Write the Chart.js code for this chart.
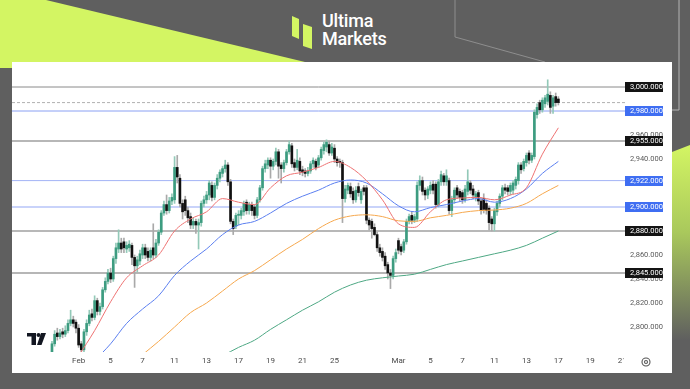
<!DOCTYPE html>
<html>
<head>
<meta charset="utf-8">
<script src="https://cdn.jsdelivr.net/npm/chart.js@4.4.1/dist/chart.umd.min.js"></script>
<style>
  html, body { margin: 0; padding: 0; }
  body { width: 690px; height: 389px; background: #5f5f5f; position: relative; overflow: hidden; }
  #deco { position: absolute; left: 0; top: 0; }
  .logo { position: absolute; left: 322px; top: 12px; color: #fff; font-family: Roboto, sans-serif; font-weight: 500; font-size: 18px; line-height: 18px; letter-spacing: -0.2px; }
  #panel { position: absolute; left: 12px; top: 62px; width: 660px; height: 311px; background: #fff; }
  #chart { position: absolute; left: 0; top: 0; }
</style>
</head>
<body>
<svg id="deco" width="690" height="389">
  <defs>
    <linearGradient id="limeFade" x1="0" y1="0" x2="0" y2="1">
      <stop offset="0" stop-color="#d3f563"/>
      <stop offset="0.45" stop-color="#a9c85c"/>
      <stop offset="1" stop-color="#5f5f5f"/>
    </linearGradient>
  </defs>
  <polygon points="0,0 46,0 330,68 0,68" fill="#d3f563"/>
  <polygon points="672,152 690,145 690,340 672,340" fill="url(#limeFade)"/>
  <polyline points="455,0 455,37 545,62" fill="none" stroke="#8e8e8e" stroke-width="1"/>
  <polyline points="679,0 679,110 672,110" fill="none" stroke="#b5b5b5" stroke-width="1"/>
  <polygon points="292,16 299,19 299,39 292,36" fill="#d3f563"/>
  <polygon points="303,24 312,27 312,49 303,46" fill="#d3f563"/>
</svg>
<div class="logo">Ultima<br>Markets</div>
<div id="panel"></div>
<canvas id="chart" width="690" height="389"></canvas>
<script>
// XAUUSD 4H, 30 Jan - 17 Mar, six bars per trading day

const days = ['Jan 30', 'Jan 31', 'Feb 3', 'Feb 4', 'Feb 5', 'Feb 6', 'Feb 7', 'Feb 10', 'Feb 11', 'Feb 12',
    'Feb 13', 'Feb 14', 'Feb 17', 'Feb 18', 'Feb 19', 'Feb 20', 'Feb 21', 'Feb 24', 'Feb 25', 'Feb 26',
    'Feb 27', 'Feb 28', 'Mar 3', 'Mar 4', 'Mar 5', 'Mar 6', 'Mar 7', 'Mar 10', 'Mar 11', 'Mar 12',
    'Mar 13', 'Mar 14', 'Mar 17', 'Mar 18', 'Mar 19', 'Mar 20', 'Mar 21'];
const axisLabels = ['', '', 'Feb', '', '5', '', '7', '', '11', '',
    '13', '', '17', '', '19', '', '21', '', '25', '',
    '', '', 'Mar', '', '5', '', '7', '', '11', '',
    '13', '', '17', '', '19', '', '21'];

const opens = [
    2768, 2772, 2776, 2786, 2795, 2792,   // Jan 30
    2796, 2794, 2797, 2803, 2806, 2804,   // Jan 31
    2799, 2786, 2781, 2796, 2803, 2811,   // Feb 3
    2808, 2822, 2813, 2817, 2831, 2838,
    2845, 2840, 2857, 2865, 2870, 2871,
    2865, 2866, 2868, 2858, 2851, 2855,
    2860, 2866, 2863, 2858, 2866, 2860,
    2870, 2879, 2895, 2902, 2897, 2905,   // Feb 10
    2906, 2933, 2924, 2903, 2906, 2897,
    2892, 2885, 2888, 2885, 2887, 2903,
    2906, 2910, 2918, 2908, 2918, 2924,
    2928, 2932, 2935, 2921, 2888, 2884,
    2893, 2893, 2896, 2904, 2897, 2902,   // Feb 17
    2900, 2893, 2906, 2916, 2932, 2935,
    2939, 2934, 2938, 2946, 2935, 2932,
    2937, 2946, 2951, 2937, 2933, 2938,
    2931, 2930, 2928, 2930, 2936, 2938,
    2935, 2941, 2947, 2950, 2952, 2945,   // Feb 24
    2949, 2940, 2938, 2937, 2907, 2914,
    2917, 2913, 2906, 2917, 2906, 2916,
    2916, 2889, 2888, 2883, 2877, 2866,
    2863, 2859, 2852, 2845, 2843, 2857,
    2872, 2867, 2864, 2871, 2888, 2893,   // Mar 3
    2889, 2890, 2918, 2922, 2914, 2910,
    2914, 2919, 2919, 2902, 2921, 2926,
    2921, 2922, 2897, 2906, 2916, 2913,
    2912, 2906, 2913, 2920, 2915, 2908,
    2912, 2905, 2907, 2903, 2899, 2890,   // Mar 10
    2886, 2896, 2903, 2909, 2916, 2916,
    2913, 2914, 2918, 2922, 2935, 2932,
    2937, 2945, 2939, 2942, 2977, 2987,
    2981, 2986, 2988, 2993, 2984, 2992,
    2990                                  // Mar 17
];
const highs = [
    2777, 2778, 2788, 2797, 2799, 2798,
    2799, 2801, 2806, 2814, 2809, 2806,
    2802, 2788, 2798, 2806, 2814, 2815,
    2826, 2824, 2820, 2833, 2841, 2848,
    2849, 2859, 2870, 2881, 2874, 2874,
    2871, 2872, 2870, 2860, 2859, 2864,
    2869, 2869, 2866, 2866, 2886, 2873,
    2881, 2897, 2905, 2910, 2908, 2911,
    2942, 2943, 2927, 2906, 2909, 2900,
    2895, 2891, 2890, 2890, 2905, 2909,
    2913, 2922, 2921, 2920, 2927, 2931,
    2934, 2939, 2937, 2923, 2890, 2895,
    2897, 2899, 2905, 2906, 2904, 2904,
    2902, 2908, 2918, 2934, 2939, 2941,
    2941, 2940, 2949, 2948, 2937, 2939,
    2948, 2955, 2953, 2940, 2948, 2941,
    2934, 2932, 2933, 2938, 2941, 2940,
    2943, 2950, 2954, 2956, 2955, 2953,
    2952, 2942, 2940, 2939, 2918, 2920,
    2920, 2916, 2917, 2920, 2915, 2918,
    2918, 2891, 2890, 2886, 2879, 2869,
    2866, 2862, 2854, 2848, 2859, 2865,
    2874, 2869, 2873, 2890, 2894, 2896,
    2894, 2921, 2926, 2925, 2916, 2917,
    2921, 2922, 2921, 2923, 2930, 2928,
    2931, 2924, 2909, 2916, 2918, 2915,
    2914, 2918, 2931, 2922, 2918, 2913,
    2914, 2907, 2911, 2906, 2901, 2892,
    2899, 2905, 2911, 2918, 2919, 2918,
    2920, 2922, 2925, 2937, 2937, 2940,
    2945, 2947, 2945, 2981, 2986, 2989,
    2991, 2993, 3006, 2996, 2993, 2995,
    2992
];
const lows = [
    2763, 2768, 2774, 2784, 2789, 2790,
    2791, 2792, 2795, 2801, 2800, 2795,
    2783, 2772, 2778, 2793, 2801, 2805,
    2806, 2810, 2810, 2815, 2829, 2836,
    2837, 2838, 2853, 2862, 2862, 2862,
    2862, 2863, 2852, 2833, 2846, 2852,
    2857, 2857, 2855, 2855, 2857, 2858,
    2868, 2877, 2893, 2894, 2895, 2902,
    2903, 2920, 2900, 2890, 2893, 2887,
    2882, 2882, 2878, 2865, 2884, 2900,
    2903, 2906, 2905, 2906, 2915, 2921,
    2925, 2929, 2918, 2886, 2877, 2882,
    2885, 2890, 2893, 2894, 2894, 2893,
    2890, 2891, 2904, 2914, 2929, 2932,
    2924, 2931, 2935, 2924, 2920, 2929,
    2935, 2944, 2933, 2930, 2931, 2927,
    2926, 2925, 2926, 2928, 2933, 2931,
    2933, 2939, 2944, 2946, 2943, 2943,
    2937, 2934, 2933, 2887, 2904, 2911,
    2908, 2903, 2904, 2909, 2903, 2910,
    2886, 2881, 2874, 2876, 2863, 2859,
    2855, 2848, 2840, 2832, 2840, 2854,
    2861, 2860, 2862, 2869, 2886, 2886,
    2887, 2888, 2914, 2910, 2906, 2907,
    2911, 2911, 2899, 2900, 2918, 2918,
    2918, 2894, 2892, 2903, 2907, 2905,
    2903, 2904, 2910, 2911, 2907, 2905,
    2902, 2894, 2895, 2894, 2881, 2880,
    2880, 2893, 2900, 2906, 2911, 2910,
    2910, 2911, 2915, 2919, 2928, 2930,
    2934, 2936, 2937, 2940, 2974, 2978,
    2979, 2983, 2985, 2978, 2978, 2984,
    2985
];
const closes = [
    2772, 2775, 2786, 2794, 2792, 2795,
    2794, 2797, 2803, 2806, 2803, 2799,
    2785, 2781, 2796, 2803, 2810, 2808,
    2822, 2813, 2817, 2831, 2838, 2845,
    2840, 2857, 2866, 2870, 2865, 2866,
    2868, 2869, 2858, 2851, 2856, 2861,
    2866, 2860, 2858, 2864, 2860, 2870,
    2879, 2895, 2902, 2897, 2905, 2908,
    2933, 2925, 2903, 2896, 2897, 2891,
    2885, 2888, 2885, 2887, 2903, 2906,
    2910, 2920, 2908, 2918, 2924, 2929,
    2932, 2935, 2921, 2888, 2882, 2893,
    2894, 2897, 2903, 2897, 2902, 2897,
    2893, 2906, 2916, 2932, 2936, 2939,
    2934, 2938, 2946, 2934, 2932, 2937,
    2946, 2952, 2936, 2933, 2939, 2930,
    2929, 2928, 2930, 2936, 2939, 2933,
    2941, 2948, 2952, 2954, 2945, 2950,
    2940, 2937, 2937, 2907, 2915, 2918,
    2911, 2906, 2914, 2912, 2913, 2913,
    2889, 2885, 2882, 2877, 2866, 2862,
    2858, 2851, 2845, 2843, 2857, 2862,
    2864, 2863, 2871, 2888, 2892, 2889,
    2892, 2918, 2922, 2913, 2910, 2915,
    2918, 2914, 2902, 2921, 2927, 2921,
    2926, 2897, 2906, 2914, 2910, 2908,
    2906, 2915, 2921, 2914, 2910, 2911,
    2905, 2897, 2898, 2897, 2887, 2886,
    2897, 2903, 2909, 2916, 2914, 2913,
    2918, 2920, 2923, 2935, 2931, 2938,
    2943, 2939, 2943, 2979, 2983, 2981,
    2989, 2991, 2994, 2983, 2991, 2987,
    2987
];

// moving averages, one reading per trading day (first bar of the day)
const maRed = [null, null, 2776, 2797, 2821, 2841, 2851, 2860, 2880, 2890,
    2896, 2907, 2904, 2902, 2916, 2926, 2929, 2933, 2938, 2933,
    2922, 2906, 2886, 2883, 2896, 2906, 2907.5, 2908, 2906, 2910,
    2916, 2944, 2966];
const maBlue = [null, null, null, 2772, 2786, 2803, 2815, 2826, 2843, 2855,
    2865, 2877, 2885, 2888, 2895, 2903, 2909, 2914, 2920, 2922.5,
    2920, 2911, 2901, 2896, 2899.5, 2902, 2905, 2907, 2904, 2907,
    2915, 2928, 2938];
const maOrange = [null, null, null, null, null, null, 2777, 2788, 2800, 2812,
    2820, 2830, 2840, 2847, 2856, 2865, 2873, 2882, 2889, 2892.5,
    2893.5, 2892, 2888.5, 2888, 2891, 2893, 2895.5, 2897, 2897.5, 2899,
    2903, 2911, 2918];
const maGreen = [null, null, null, null, null, null, null, null, null, null,
    null, 2776, 2783, 2789, 2798, 2806, 2814, 2821, 2829, 2835,
    2839, 2841, 2842.5, 2844, 2848, 2852, 2855, 2858, 2861, 2864,
    2868, 2874, 2880];

const levels = [3000, 2980, 2955, 2922, 2900, 2880, 2845];
const yTicks = [2800, 2820, 2840, 2860, 2880, 2900, 2920, 2940, 2960, 2980, 3000];

// styling
const barsPerDay = 6;
const UP = '#3d9c80', DOWN = '#111111';
const UP_WICK = '#93c9b8', DOWN_WICK = '#a9a9a9';
const levelStyle = {
    3000: { line: '#8a8a8a', width: 1, box: '#141414' },
    2980: { line: '#8aa0f3', width: 1, box: '#3f6ef2' },
    2955: { line: '#707070', width: 1.2, box: '#141414' },
    2922: { line: '#a3b3f6', width: 1, box: '#3f6ef2' },
    2900: { line: '#c9d3fa', width: 2, box: '#3f6ef2' },
    2880: { line: '#b8b8b8', width: 2, box: '#141414' },
    2845: { line: '#6e6e6e', width: 1.2, box: '#141414' }
};

const fmt = v => v.toLocaleString('en-US', { minimumFractionDigits: 3, maximumFractionDigits: 3 });

const bodies = opens.map((o, i) => ({ x: i, y: [o, closes[i]] }));
const wicks = opens.map((o, i) => ({ x: i, y: [lows[i], highs[i]] }));
const isUp = opens.map((o, i) => closes[i] >= o);

function maPoints(values) {
    return values
        .map((v, d) => (v === null ? null : { x: d * barsPerDay, y: v }))
        .filter(p => p !== null);
}

function maDataset(values, color) {
    return {
        type: 'line',
        data: maPoints(values),
        borderColor: color,
        borderWidth: 1,
        pointRadius: 0,
        cubicInterpolationMode: 'monotone',
        spanGaps: true,
        order: 0
    };
}

const levelsPlugin = {
    id: 'levels',
    beforeDatasetsDraw(chart) {
        const { ctx, chartArea, scales } = chart;
        ctx.save();
        levels.forEach(v => {
            const st = levelStyle[v];
            const y = scales.y.getPixelForValue(v);
            ctx.strokeStyle = st.line;
            ctx.lineWidth = st.width;
            ctx.beginPath();
            ctx.moveTo(chartArea.left, y);
            ctx.lineTo(chartArea.right, y);
            ctx.stroke();
        });
        // last price line
        const yl = scales.y.getPixelForValue(closes[closes.length - 1]);
        ctx.strokeStyle = '#b0b0b0';
        ctx.lineWidth = 1;
        ctx.setLineDash([3, 2]);
        ctx.beginPath();
        ctx.moveTo(chartArea.left, yl);
        ctx.lineTo(chartArea.right, yl);
        ctx.stroke();
        ctx.restore();
    },
    afterDraw(chart) {
        const { ctx, chartArea, scales } = chart;
        ctx.save();
        // hide the part of the last date label that runs under the price scale
        ctx.fillStyle = '#ffffff';
        ctx.fillRect(chartArea.right - 1, chartArea.bottom + 1, 48, 20);

        ctx.font = '7.5px Roboto';
        ctx.textBaseline = 'middle';
        levels.forEach(v => {
            const st = levelStyle[v];
            const y = scales.y.getPixelForValue(v);
            ctx.fillStyle = st.box;
            ctx.fillRect(chartArea.right, Math.round(y) - 5, 38, 10);
            ctx.fillStyle = '#ffffff';
            ctx.fillText(fmt(v), chartArea.right + 5, y + 0.5);
        });

        // settings gear
        const gx = chartArea.right + 21, gy = chartArea.bottom + 10;
        ctx.strokeStyle = '#555';
        ctx.lineWidth = 1.1;
        ctx.beginPath();
        ctx.arc(gx, gy, 4, 0, Math.PI * 2);
        ctx.stroke();
        ctx.beginPath();
        ctx.arc(gx, gy, 1.5, 0, Math.PI * 2);
        ctx.stroke();

        // TradingView mark
        const lx = chartArea.left + 15, ly = chartArea.bottom - 19;
        ctx.fillStyle = '#131722';
        ctx.fillRect(lx, ly, 9, 3.5);
        ctx.fillRect(lx + 4.5, ly, 4.5, 12);
        ctx.beginPath();
        ctx.arc(lx + 11.5, ly + 2, 2, 0, Math.PI * 2);
        ctx.fill();
        ctx.beginPath();
        ctx.moveTo(lx + 14, ly);
        ctx.lineTo(lx + 19, ly);
        ctx.lineTo(lx + 14.5, ly + 12);
        ctx.lineTo(lx + 10, ly + 12);
        ctx.closePath();
        ctx.fill();
        ctx.restore();
    }
};

Chart.defaults.font.family = 'Roboto';
Chart.defaults.font.size = 7.5;

new Chart(document.getElementById('chart'), {
    type: 'bar',
    data: {
        datasets: [
            maDataset(maRed, '#ee7272'),
            maDataset(maBlue, '#5b7ff0'),
            maDataset(maOrange, '#f6a84e'),
            maDataset(maGreen, '#4ea884'),
            {
                data: bodies,
                backgroundColor: isUp.map(u => (u ? UP : DOWN)),
                barThickness: 2,
                minBarLength: 1,
                grouped: false,
                order: 1
            },
            {
                data: wicks,
                backgroundColor: isUp.map(u => (u ? UP_WICK : DOWN_WICK)),
                barThickness: 1,
                grouped: false,
                order: 2
            }
        ]
    },
    options: {
        responsive: false,
        animation: false,
        devicePixelRatio: 1,
        events: [],
        layout: { padding: { left: 12, top: 62, right: 18, bottom: 16 } },
        plugins: { legend: { display: false }, tooltip: { enabled: false } },
        scales: {
            x: {
                type: 'linear',
                min: -13,
                max: 217,
                offset: false,
                grid: { display: false, drawTicks: false },
                border: { display: false },
                afterBuildTicks: scale => {
                    scale.ticks = days
                        .map((d, i) => ({ value: i * barsPerDay }))
                        .filter((t, i) => axisLabels[i] !== '');
                },
                afterFit: scale => { scale.height = 21; },
                ticks: {
                    autoSkip: false,
                    maxRotation: 0,
                    padding: 4,
                    color: '#4a4a4a',
                    font: { size: 8 },
                    callback: value => axisLabels[Math.round(value / barsPerDay)]
                }
            },
            y: {
                position: 'right',
                min: 2800 - 25 / 1.2,
                max: 3000 + 25 / 1.2,
                grid: { display: false, drawTicks: false },
                border: { display: false },
                afterBuildTicks: scale => {
                    scale.ticks = yTicks.map(v => ({ value: v }));
                },
                afterFit: scale => { scale.width = 47; },
                ticks: {
                    padding: 5,
                    color: '#5a5a5a',
                    callback: value => fmt(value)
                }
            }
        }
    },
    plugins: [levelsPlugin]
});
</script>
</body>
</html>
